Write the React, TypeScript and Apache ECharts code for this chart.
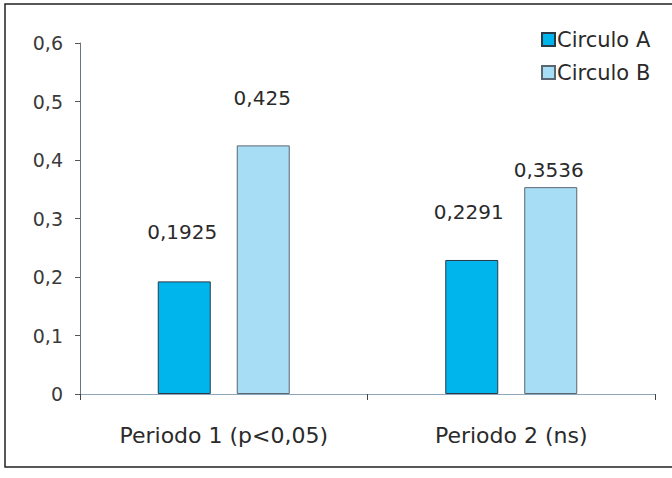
import React, { useEffect, useRef } from "react";
import * as echarts from "echarts";

const categories = ["Periodo 1 (p<0,05)", "Periodo 2 (ns)"];
const seriesNames = ["Circulo A", "Circulo B"];
const circuloA = [0.1925, 0.2291];
const circuloB = [0.425, 0.3536];
const labelsA = ["0,1925", "0,2291"];
const labelsB = ["0,425", "0,3536"];
const yTicks = [0, 0.1, 0.2, 0.3, 0.4, 0.5, 0.6];

const labelOffsetsA = [[-2, -34], [-3, -33]];
const labelOffsetsB = [[-1, -32], [-2, -2]];

const FONT = "DejaVu Sans, Liberation Sans, Arial, sans-serif";

export default function App() {
  const ref = useRef<HTMLDivElement>(null);
  useEffect(() => {
    if (!ref.current) return;
    const chart = echarts.init(ref.current, null, { renderer: "svg" });
    const fmt = (v: number) => String(v).replace(".", ",");
    chart.setOption({
      animation: false,
      backgroundColor: "#ffffff",
      textStyle: { fontFamily: FONT },
      graphic: [
        {
          type: "rect",
          shape: { x: 5, y: 4, width: 700, height: 463 },
          style: { fill: "none", stroke: "#222", lineWidth: 1.5 },
          silent: true,
        },
      ],
      legend: {
        data: seriesNames,
        orient: "vertical",
        left: 541,
        top: 29,
        padding: 0,
        itemWidth: 13,
        itemHeight: 13,
        itemGap: 12,
        icon: "rect",
        textStyle: {
          fontFamily: FONT,
          fontSize: 21,
          lineHeight: 20,
          color: "#2a2a2a",
          padding: [0, 0, 0, -3],
        },
      },
      grid: { left: 80, right: 17, top: 43, bottom: 84 },
      xAxis: {
        type: "category",
        data: categories,
        axisLine: { lineStyle: { color: "#8fa6b8", width: 1 } },
        axisTick: { show: true, length: 6, lineStyle: { color: "#444" } },
        axisLabel: { fontFamily: FONT, fontSize: 22, color: "#2a2a2a", margin: 30 },
      },
      yAxis: {
        type: "value",
        min: 0,
        max: 0.6,
        interval: 0.1,
        splitLine: { show: false },
        axisLine: { show: true, lineStyle: { color: "#6b7580", width: 1 } },
        axisTick: { show: true, length: 5, lineStyle: { color: "#555" } },
        axisLabel: {
          fontFamily: FONT,
          fontSize: 19,
          color: "#3a3a3a",
          margin: 17,
          formatter: (v: number) => {
            const r = Math.round(v * 10) / 10;
            return yTicks.includes(r) ? fmt(r) : "";
          },
        },
      },
      series: [
        {
          name: seriesNames[0],
          type: "bar",
          barWidth: 53,
          barGap: "49%",
          barCategoryGap: "54%",
          itemStyle: { color: "#00b4ec", borderColor: "#2b3a44", borderWidth: 1 },
          data: circuloA.map((v, i) => ({
            value: v,
            label: {
              show: true,
              position: "top",
              offset: labelOffsetsA[i],
              formatter: labelsA[i],
              fontFamily: FONT,
              fontSize: 20,
              color: "#2a2a2a",
            },
          })),
        },
        {
          name: seriesNames[1],
          type: "bar",
          barWidth: 53,
          itemStyle: { color: "#a8ddf6", borderColor: "#5a6670", borderWidth: 1 },
          data: circuloB.map((v, i) => ({
            value: v,
            label: {
              show: true,
              position: "top",
              offset: labelOffsetsB[i],
              formatter: labelsB[i],
              fontFamily: FONT,
              fontSize: 20,
              color: "#2a2a2a",
            },
          })),
        },
      ],
    });
    return () => chart.dispose();
  }, []);
  return (
    <div
      ref={ref}
      style={{ position: "fixed", left: 0, top: 0, width: 672, height: 478 }}
    />
  );
}
